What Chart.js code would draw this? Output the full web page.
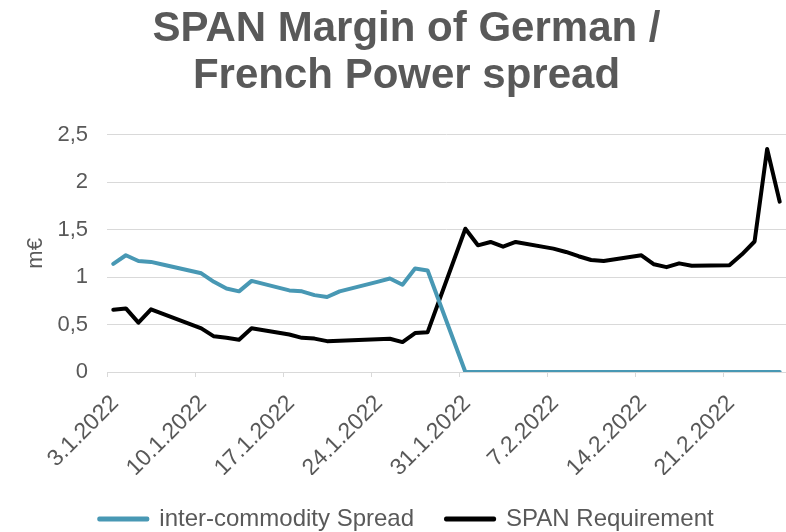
<!DOCTYPE html>
<html lang="en">
<head>
  <meta charset="UTF-8">
  <title>SPAN Margin</title>
  <style>
    html, body { margin: 0; padding: 0; background: #fff; }
    #wrap { width: 786px; height: 532px; }
  </style>
</head>
<body>
  <div id="wrap">
    <canvas id="myChart" width="786" height="532"></canvas>
  </div>

  <script src="https://cdn.jsdelivr.net/npm/chart.js"></script>

  <script>
    // trading days (weekdays only)
    const dates = [
      '3.1.2022', '4.1.2022', '5.1.2022', '6.1.2022', '7.1.2022',
      '10.1.2022', '11.1.2022', '12.1.2022', '13.1.2022', '14.1.2022',
      '17.1.2022', '18.1.2022', '19.1.2022', '20.1.2022', '21.1.2022',
      '24.1.2022', '25.1.2022', '26.1.2022', '27.1.2022', '28.1.2022',
      '31.1.2022', '1.2.2022', '2.2.2022', '3.2.2022', '4.2.2022',
      '7.2.2022', '8.2.2022', '9.2.2022', '10.2.2022', '11.2.2022',
      '14.2.2022', '15.2.2022', '16.2.2022', '17.2.2022', '18.2.2022',
      '21.2.2022', '22.2.2022', '23.2.2022', '24.2.2022', '25.2.2022'
    ];

    const spreadValues = [
      1.14, 1.23, 1.17, 1.16, 1.13,
      1.04, 0.95, 0.88, 0.85, 0.96,
      0.86, 0.85, 0.81, 0.79, 0.85,
      0.95, 0.985, 0.92, 1.09, 1.07,
      0, 0, 0, 0, 0,
      0, 0, 0, 0, 0,
      0, 0, 0, 0, 0,
      0, 0, 0, 0, 0
    ];

    const spanValues = [
      0.655, 0.67, 0.52, 0.66, 0.61,
      0.46, 0.376, 0.36, 0.34, 0.46,
      0.395, 0.36, 0.352, 0.325, 0.33,
      0.345, 0.35, 0.315, 0.41, 0.42,
      1.51, 1.335, 1.37, 1.32, 1.37,
      1.30, 1.265, 1.22, 1.18, 1.17,
      1.23, 1.135, 1.105, 1.145, 1.12,
      1.125, 1.24, 1.375, 2.35, 1.795
    ];

    const tickLabels = ['3.1.2022', '10.1.2022', '17.1.2022', '24.1.2022',
                        '31.1.2022', '7.2.2022', '14.2.2022', '21.2.2022'];

    const seriesNames = ['inter-commodity Spread', 'SPAN Requirement'];

    function dayOf(s) {
      const [d, m, y] = s.split('.').map(Number);
      return Date.UTC(y, m - 1, d) / 86400000;
    }
    const day0 = dayOf(dates[0]);
    const toPoints = vals => dates.map((d, i) => ({ x: dayOf(d) - day0 + 0.5, y: vals[i] }));

    const grey = '#595959';
    const font = 'Liberation Sans, Arial, sans-serif';

    const ctx = document.getElementById('myChart').getContext('2d');
    new Chart(ctx, {
      type: 'line',
      data: {
        datasets: [
          {
            label: seriesNames[0],
            data: toPoints(spreadValues),
            borderColor: '#4898b4',
            backgroundColor: '#4898b4',
            borderWidth: 4,
            pointRadius: 0,
            tension: 0,
            borderJoinStyle: 'round',
            borderCapStyle: 'round'
          },
          {
            label: seriesNames[1],
            data: toPoints(spanValues),
            borderColor: '#000000',
            backgroundColor: '#000000',
            borderWidth: 4,
            pointRadius: 0,
            tension: 0,
            borderJoinStyle: 'round',
            borderCapStyle: 'round'
          }
        ]
      },
      options: {
        responsive: false,
        animation: false,
        layout: { padding: { left: 27, right: 0, top: 0, bottom: -9 } },
        plugins: {
          title: {
            display: true,
            text: ['SPAN Margin of German /', 'French Power spread'],
            color: grey,
            font: { family: font, size: 42, weight: 'bold', lineHeight: 1.14 },
            padding: { top: 5, bottom: 34 }
          },
          legend: {
            position: 'bottom',
            labels: {
              color: grey,
              font: { family: font, size: 24 },
              boxWidth: 48,
              boxHeight: 1,
              padding: 32
            }
          },
          tooltip: { enabled: false }
        },
        scales: {
          x: {
            type: 'linear',
            min: 0,
            max: 54,
            afterBuildTicks: scale => {
              scale.ticks = tickLabels.map(t => ({ value: dayOf(t) - day0 }));
            },
            afterFit: scale => { scale.height = 103; },
            ticks: {
              color: grey,
              font: { family: font, size: 23 },
              maxRotation: 45,
              minRotation: 45,
              autoSkip: false,
              padding: 13,
              labelOffset: 8,
              callback: v => tickLabels.find(t => dayOf(t) - day0 === v) || ''
            },
            grid: {
              drawOnChartArea: false,
              drawTicks: true,
              tickLength: 5,
              color: '#d9d9d9'
            },
            border: { display: true, color: '#d9d9d9', width: 1 }
          },
          y: {
            min: 0,
            max: 2.5,
            afterFit: scale => { scale.width = 80; },
            ticks: {
              stepSize: 0.5,
              color: grey,
              font: { family: font, size: 22 },
              padding: 19,
              callback: v => String(v).replace('.', ',')
            },
            grid: { color: '#d9d9d9', lineWidth: 1, drawTicks: false },
            border: { display: false },
            title: {
              display: true,
              text: 'm€',
              color: grey,
              font: { family: font, size: 22, lineHeight: 1 },
              padding: { top: -2, bottom: 0 }
            }
          }
        }
      }
    });
  </script>
</body>
</html>
